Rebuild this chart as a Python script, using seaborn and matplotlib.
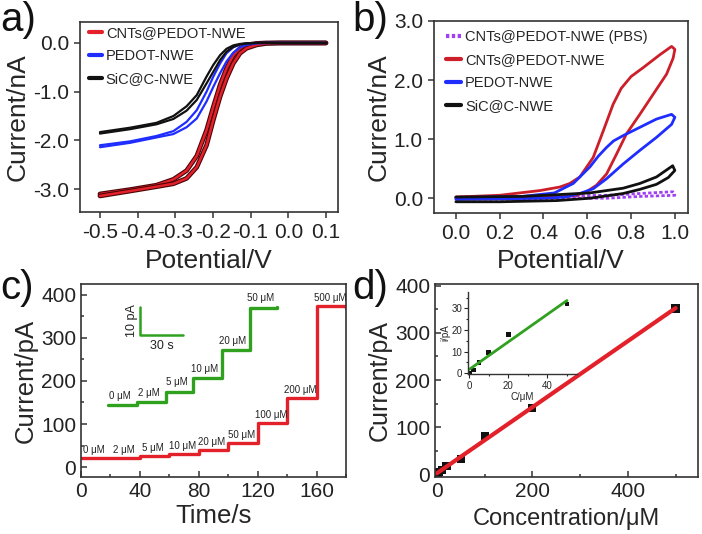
import numpy as np
import matplotlib
matplotlib.use('Agg')
import matplotlib.pyplot as plt
import matplotlib.patheffects as pe
from matplotlib.lines import Line2D
from matplotlib.ticker import MultipleLocator, FormatStrFormatter
import seaborn as sns

sns.set_style('ticks')
plt.rcParams['font.family'] = ['Liberation Sans', 'DejaVu Sans']
plt.rcParams['axes.unicode_minus'] = False

# ---- (a) LSV curves, two scans per electrode ----
lsv_potential = [-0.50, -0.42, -0.35, -0.305, -0.27, -0.243, -0.217, -0.199, -0.181,
                 -0.164, -0.146, -0.128, -0.111, -0.084, -0.058, -0.022, 0.10]
cnt_scan1 = [-3.10, -3.01, -2.92, -2.80, -2.62, -2.32, -1.79, -1.31, -0.86,
             -0.52, -0.25, -0.11, -0.04, -0.01, 0.0, 0.0, 0.0]
cnt_scan2 = [-3.14, -3.04, -2.95, -2.89, -2.78, -2.55, -2.10, -1.58, -1.10,
             -0.73, -0.42, -0.21, -0.11, -0.04, -0.01, 0.0, 0.0]
pedot_scan1 = [-2.10, -2.02, -1.91, -1.81, -1.62, -1.38, -1.00, -0.69, -0.42,
               -0.21, -0.09, -0.03, -0.01, 0.0, 0.0, 0.0, 0.0]
pedot_scan2 = [-2.14, -2.05, -1.94, -1.87, -1.73, -1.55, -1.20, -0.90, -0.62,
               -0.38, -0.20, -0.09, -0.04, -0.01, 0.0, 0.0, 0.0]
sic_scan1 = [-1.83, -1.74, -1.64, -1.50, -1.30, -1.07, -0.69, -0.45, -0.25,
             -0.12, -0.05, -0.02, -0.01, 0.0, 0.0, 0.0, 0.0]
sic_scan2 = [-1.86, -1.77, -1.67, -1.56, -1.39, -1.17, -0.83, -0.59, -0.35,
             -0.18, -0.08, -0.03, -0.01, 0.0, 0.0, 0.0, 0.0]

# ---- (b) CV loops ----
cv_cnt_v = [0.00, 0.20, 0.40, 0.50, 0.551, 0.597, 0.642, 0.688, 0.734, 0.779, 0.84, 0.901,
            0.962, 0.992, 1.0, 0.985, 0.932, 0.855, 0.80, 0.755, 0.718, 0.673, 0.627, 0.566,
            0.52, 0.475, 0.384, 0.20, 0.00]
cv_cnt_i = [0.00, 0.01, 0.02, 0.03, 0.05, 0.11, 0.22, 0.41, 0.75, 1.09, 1.42, 1.76,
            2.10, 2.37, 2.52, 2.57, 2.43, 2.21, 2.06, 1.86, 1.59, 1.14, 0.69, 0.36,
            0.25, 0.19, 0.13, 0.05, 0.02]
cv_pedot_v = [0.00, 0.20, 0.40, 0.50, 0.566, 0.627, 0.688, 0.764, 0.84, 0.916, 0.985, 1.0,
              0.985, 0.916, 0.84, 0.764, 0.72, 0.688, 0.65, 0.612, 0.536, 0.45, 0.30, 0.00]
cv_pedot_i = [-0.02, -0.01, 0.0, 0.02, 0.08, 0.16, 0.33, 0.58, 0.81, 1.03, 1.25, 1.37,
              1.42, 1.34, 1.20, 1.06, 0.97, 0.86, 0.71, 0.53, 0.25, 0.09, 0.03, 0.01]
cv_sic_v = [0.00, 0.20, 0.46, 0.612, 0.764, 0.84, 0.916, 0.97, 1.0, 0.99, 0.916, 0.84,
            0.764, 0.612, 0.46, 0.30, 0.00]
cv_sic_i = [-0.06, -0.06, -0.04, 0.0, 0.08, 0.15, 0.235, 0.35, 0.47, 0.55, 0.36, 0.25,
            0.17, 0.09, 0.06, 0.03, 0.02]
cv_pbs_v = [0.0, 0.3, 0.536, 0.69, 0.84, 1.0, 0.99, 0.84, 0.69, 0.536, 0.3, 0.0]
cv_pbs_i = [-0.01, -0.02, 0.0, 0.0, 0.03, 0.05, 0.11, 0.08, 0.05, 0.04, 0.03, 0.02]

# ---- (c) amperometric i-t steps ----
step_time = [0, 20, 40, 60, 80, 100, 120, 140, 160, 180]
step_current = [20, 21, 25.6, 30, 39.5, 55, 101.5, 160, 373, 370]
step_labels = ['0 μM', '2 μM', '5 μM', '10 μM', '20 μM', '50 μM', '100 μM', '200 μM', '500 μM']
zoom_time = [18.5, 38, 58, 76, 95.5, 115, 133]
zoom_current = [144, 150.5, 175, 206, 272, 370, 371]
zoom_labels = ['0 μM', '2 μM', '5 μM', '10 μM', '20 μM', '50 μM']

# ---- (d) calibration ----
conc = [0, 2, 5, 10, 20, 50, 100, 200, 500]
resp = [0, 1.5, 5, 9.5, 18, 32, 81, 141, 352]

RED = '#e3212b'
BLUE = '#1f2dff'
GREEN = '#2fa11f'
PURPLE = '#a040f5'

fig = plt.figure(figsize=(7.02, 5.34), dpi=100)
W, H = 702, 534


def box(l, r, t, b):
    return [l / W, 1 - b / H, (r - l) / W, (b - t) / H]


def style(ax, direction, tsize):
    for s in ax.spines.values():
        s.set_linewidth(1.2)
        s.set_color('#333333')
    ax.tick_params(which='both', direction=direction, width=1.1, colors='#333333',
                   labelcolor='#222222', labelsize=tsize)
    ax.tick_params(which='major', length=4.5)
    ax.tick_params(which='minor', length=2.5)


# (a)
ax = fig.add_axes(box(80, 338, 22, 212))
outline = [pe.Stroke(linewidth=3.4, foreground='#4a0508'), pe.Normal()]
for scan in (cnt_scan1, cnt_scan2):
    sns.lineplot(x=lsv_potential, y=scan, ax=ax, color=RED, lw=1.8, sort=False,
                 estimator=None, path_effects=outline)
for scan in (pedot_scan1, pedot_scan2):
    sns.lineplot(x=lsv_potential, y=scan, ax=ax, color=BLUE, lw=1.6, sort=False, estimator=None)
for scan in (sic_scan1, sic_scan2):
    sns.lineplot(x=lsv_potential, y=scan, ax=ax, color='#111111', lw=1.6, sort=False, estimator=None)
ax.set_xlim(-0.553, 0.132)
ax.set_ylim(-3.47, 0.43)
ax.xaxis.set_major_locator(MultipleLocator(0.1))
ax.yaxis.set_major_locator(MultipleLocator(1.0))
ax.xaxis.set_major_formatter(FormatStrFormatter('%.1f'))
ax.yaxis.set_major_formatter(FormatStrFormatter('%.1f'))
style(ax, 'out', 15)
ax.set_xlabel('Potential/V', fontsize=19, labelpad=5)
ax.set_ylabel('Current/nA', fontsize=19, labelpad=2)
hnd = [Line2D([], [], color=c, lw=3) for c in (RED, BLUE, '#111111')]
ax.legend(hnd, ['CNTs@PEDOT-NWE', 'PEDOT-NWE', 'SiC@C-NWE'], loc='upper left',
          bbox_to_anchor=(0.035, 0.98), frameon=False, fontsize=10.5, handlelength=0.9,
          handletextpad=0.25, borderpad=0, borderaxespad=0, labelspacing=0.62)

# (b)
ax = fig.add_axes(box(434, 688, 21, 213))
sns.lineplot(x=cv_pbs_v, y=cv_pbs_i, ax=ax, color=PURPLE, lw=2, ls=(0, (1.2, 0.8)),
             sort=False, estimator=None)
sns.lineplot(x=cv_cnt_v, y=cv_cnt_i, ax=ax, color='#cc1f2a', lw=2, sort=False, estimator=None)
sns.lineplot(x=cv_pedot_v, y=cv_pedot_i, ax=ax, color=BLUE, lw=2, sort=False, estimator=None)
sns.lineplot(x=cv_sic_v, y=cv_sic_i, ax=ax, color='#111111', lw=2, sort=False, estimator=None)
ax.set_xlim(-0.1, 1.06)
ax.set_ylim(-0.25, 3.0)
ax.xaxis.set_major_locator(MultipleLocator(0.2))
ax.yaxis.set_major_locator(MultipleLocator(1.0))
ax.xaxis.set_major_formatter(FormatStrFormatter('%.1f'))
ax.yaxis.set_major_formatter(FormatStrFormatter('%.1f'))
style(ax, 'out', 15)
ax.set_xlabel('Potential/V', fontsize=19, labelpad=4)
ax.set_ylabel('Current/nA', fontsize=19, labelpad=2)
hnd = [Line2D([], [], color=PURPLE, lw=3, ls=(0, (0.8, 0.6))),
       Line2D([], [], color='#cc1f2a', lw=3), Line2D([], [], color=BLUE, lw=3),
       Line2D([], [], color='#111111', lw=3)]
ax.legend(hnd, ['CNTs@PEDOT-NWE (PBS)', 'CNTs@PEDOT-NWE', 'PEDOT-NWE', 'SiC@C-NWE'],
          loc='upper left', bbox_to_anchor=(0.047, 0.955), frameon=False, fontsize=10.5,
          handlelength=1.0, handletextpad=0.3, borderpad=0, borderaxespad=0, labelspacing=0.62)

# (c)
ax = fig.add_axes(box(81, 346, 284, 477))
sns.lineplot(x=step_time, y=step_current, ax=ax, color=RED, lw=2.4,
             drawstyle='steps-post', estimator=None)
sns.lineplot(x=zoom_time, y=zoom_current, ax=ax, color=GREEN, lw=2.4,
             drawstyle='steps-post', estimator=None)
for i, lab in enumerate(step_labels):
    mid = (step_time[i] + step_time[i + 1]) / 2
    ax.text(mid - 1, step_current[i] + 8, lab, ha='center', va='bottom', fontsize=7, color='#222222')
for i, lab in enumerate(zoom_labels):
    mid = (zoom_time[i] + zoom_time[i + 1]) / 2
    ax.text(mid - 2, zoom_current[i] + 10, lab, ha='center', va='bottom', fontsize=7, color='#222222')
# scale bar (10 pA / 30 s)
bar_t0, bar_t1 = 40.4, 69
bar_i0, bar_i1 = 307, 371
ax.plot([bar_t0, bar_t0, bar_t1], [bar_i1, bar_i0, bar_i0], color=GREEN, lw=1.8)
ax.text(bar_t0 - 6, (bar_i0 + bar_i1) / 2, '10 pA', rotation=90, ha='center', va='center',
        fontsize=9, color='#222222')
ax.text((bar_t0 + bar_t1) / 2, bar_i0 - 12, '30 s', ha='center', va='top', fontsize=9, color='#222222')
ax.set_xlim(0, 180)
ax.set_ylim(-23, 425)
ax.xaxis.set_major_locator(MultipleLocator(40))
ax.xaxis.set_minor_locator(MultipleLocator(20))
ax.yaxis.set_major_locator(MultipleLocator(100))
ax.yaxis.set_minor_locator(MultipleLocator(50))
style(ax, 'in', 15)
ax.set_xlabel('Time/s', fontsize=18.5, labelpad=2)
ax.set_ylabel('Current/pA', fontsize=18.5, labelpad=2)

# (d)
ax = fig.add_axes(box(435, 698, 284, 477))
sns.regplot(x=conc, y=resp, ax=ax, ci=None, scatter=False, truncate=True,
            line_kws={'color': RED, 'lw': 3})
sns.scatterplot(x=conc, y=resp, ax=ax, marker='s', color='#111111', s=35, edgecolor='none')
ax.set_xlim(-4, 547)
ax.set_ylim(-6, 404)
ax.xaxis.set_major_locator(MultipleLocator(200))
ax.xaxis.set_minor_locator(MultipleLocator(100))
ax.yaxis.set_major_locator(MultipleLocator(100))
ax.yaxis.set_minor_locator(MultipleLocator(50))
style(ax, 'in', 15)
ax.set_xlabel('Concentration/μM', fontsize=17, labelpad=5)
ax.set_ylabel('Current/pA', fontsize=18, labelpad=2)

# inset
ins = fig.add_axes(box(468.3, 576.7, 291.7, 374.3))
sns.regplot(x=conc[:6], y=resp[:6], ax=ins, ci=None, scatter=False, truncate=True,
            line_kws={'color': GREEN, 'lw': 2})
sns.scatterplot(x=conc[:6], y=resp[:6], ax=ins, marker='s', color='#111111', s=12, edgecolor='none')
ins.set_xlim(-0.5, 55)
ins.set_ylim(-0.5, 37.7)
ins.xaxis.set_major_locator(MultipleLocator(20))
ins.xaxis.set_minor_locator(MultipleLocator(10))
ins.yaxis.set_major_locator(MultipleLocator(10))
ins.yaxis.set_minor_locator(MultipleLocator(5))
ins.spines['top'].set_visible(False)
ins.spines['right'].set_visible(False)
for s in ins.spines.values():
    s.set_linewidth(1.0)
    s.set_color('#333333')
ins.tick_params(which='both', direction='out', width=0.8, labelsize=7, pad=1.5)
ins.tick_params(which='major', length=3)
ins.tick_params(which='minor', length=1.5)
ins.patch.set_alpha(0)
ins.set_xlabel('C/μM', fontsize=7, labelpad=1)
ins.set_ylabel('i/pA', fontsize=7, labelpad=1)

# panel letters
for x, y, s in [(0, 20, 'a)'), (352, 20, 'b)'), (0, 288, 'c)'), (352, 288, 'd)')]:
    fig.text(x / W, 1 - y / H, s, fontsize=29, va='center', ha='left', color='#111111')

fig.savefig('out.png', dpi=100)
